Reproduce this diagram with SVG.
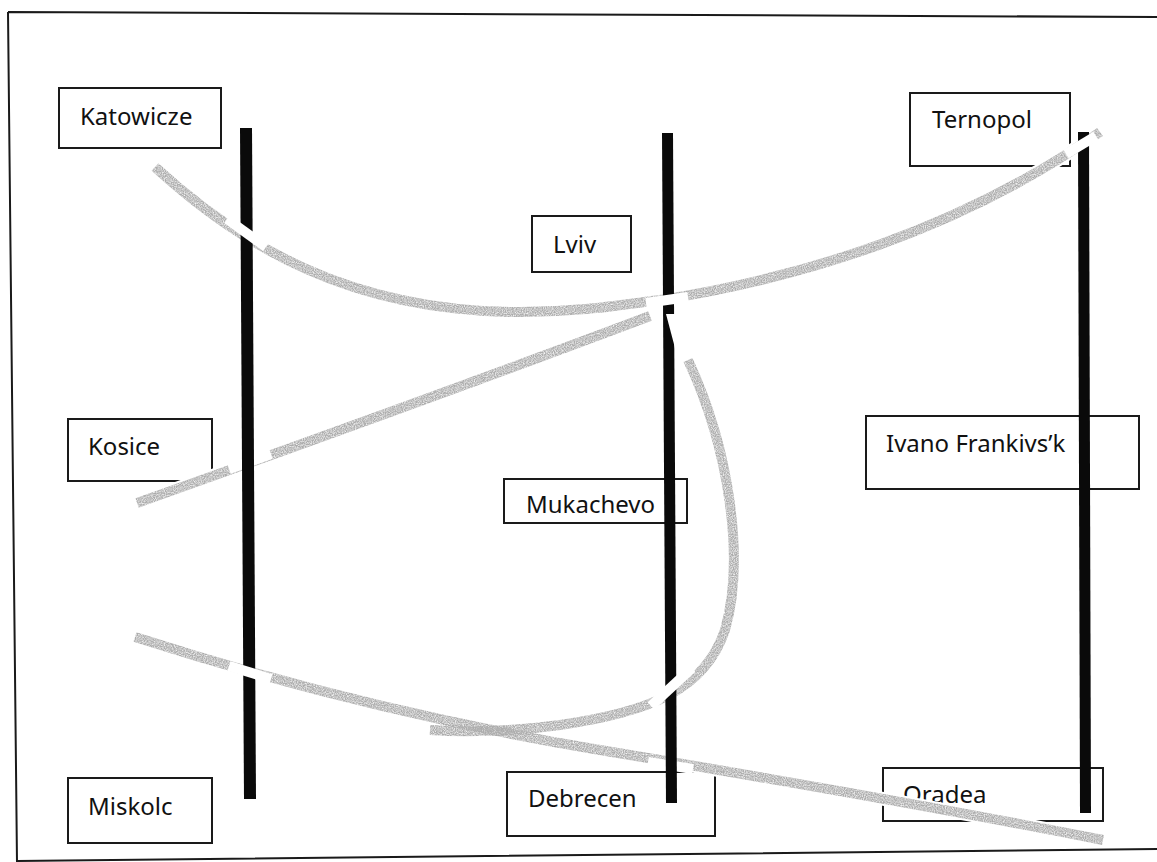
<svg xmlns="http://www.w3.org/2000/svg" width="1157" height="862" viewBox="0 0 1157 862">
  <defs>
    <filter id="grain" x="-5%" y="-5%" width="110%" height="110%">
      <feTurbulence type="fractalNoise" baseFrequency="0.9" numOctaves="2" seed="3" result="noise"/>
      <feColorMatrix in="noise" type="matrix" values="0 0 0 0 0  0 0 0 0 0  0 0 0 0 0  0 0 0 -1.6 1.5" result="mask"/>
      <feComposite in="SourceGraphic" in2="mask" operator="in"/>
    </filter>
  </defs>
  <style>
    .frame { fill: none; stroke: #1a1a1a; stroke-width: 2; }
    .box rect { fill: #fff; stroke: #1a1a1a; stroke-width: 2; }
    .box text { font-family: "Noto Sans", "Open Sans", sans-serif; font-size: 24px; fill: #111; }
    .bar { fill: #0a0a0a; }
    .casing { fill: none; stroke: #fff; stroke-width: 14; stroke-linecap: butt; }
    .route { fill: none; stroke: #acacac; stroke-width: 10; stroke-linecap: butt; filter: url(#grain); }
    .bridge { fill: none; stroke: #fff; stroke-width: 10; stroke-linecap: butt; }
  </style>

  <rect width="1157" height="862" fill="#fff"/>

  <!-- page frame -->
  <path class="frame" d="M8,12 L1160,17 M8,12 L17,862 M17,861 L1160,849"/>

  <!-- place boxes -->
  <g id="katowicze" class="box"><rect x="59" y="88" width="162" height="60"/><text x="80" y="125">Katowicze</text></g>
  <g id="ternopol" class="box"><rect x="910" y="93" width="160" height="73"/><text x="932" y="128">Ternopol</text></g>
  <g id="lviv" class="box"><rect x="532" y="216" width="99" height="56"/><text x="553" y="253">Lviv</text></g>
  <g id="kosice" class="box"><rect x="68" y="419" width="144" height="62"/><text x="88" y="455">Kosice</text></g>
  <g id="mukachevo" class="box"><rect x="504" y="479" width="183" height="44"/><text x="526" y="513">Mukachevo</text></g>
  <g id="ivano-frankivsk" class="box"><rect x="866" y="416" width="273" height="73"/><text x="886" y="452">Ivano Frankivs’k</text></g>
  <g id="miskolc" class="box"><rect x="68" y="778" width="144" height="65"/><text x="88" y="815">Miskolc</text></g>
  <g id="debrecen" class="box"><rect x="507" y="772" width="208" height="64"/><text x="528" y="807">Debrecen</text></g>
  <g id="oradea" class="box"><rect x="883" y="768" width="220" height="53"/><text x="903" y="803">Oradea</text></g>

  <!-- connectors -->
  <g id="connectors">
    <path class="casing" d="M155,167 C240,245 350,312 520,312 C580,312 620,305 660,300 C800,278 960,230 1100,132"/>
    <path class="casing" d="M137,503 C300,445 480,380 650,316"/>
    <path class="casing" d="M688,360 C730,450 745,560 725,630 C705,690 650,712 560,725 C510,732 460,732 430,730"/>
    <path class="casing" d="M135,637 C300,690 450,725 600,750 C750,775 950,810 1103,840"/>

    <path class="route" d="M155,167 C240,245 350,312 520,312 C580,312 620,305 660,300 C800,278 960,230 1100,132"/>
    <path class="route" d="M137,503 C300,445 480,380 650,316"/>
    <path class="route" d="M688,360 C730,450 745,560 725,630 C705,690 650,712 560,725 C510,732 460,732 430,730"/>
    <path class="route" d="M135,637 C300,690 450,725 600,750 C750,775 950,810 1103,840"/>

    <!-- routes pass under the bars here -->
    <path class="bridge" stroke-width="12" d="M229,469 L271,454"/>
    <path class="bridge" stroke-width="12" d="M648,762 L693,769"/>
  </g>

  <!-- border bars -->
  <g id="bars">
    <polygon class="bar" points="240,128 252,128 256,799 244,799"/>
    <polygon class="bar" points="662,133 673,133 677,803 666,803"/>
    <polygon class="bar" points="1078,132 1089,132 1091,813 1080,813"/>
  </g>

  <!-- routes cut through the bars here -->
  <g id="crossings">
    <path class="bridge" d="M227,219 L266,247"/>
    <path class="bridge" d="M646,303 L688,297"/>
    <path class="bridge" d="M692,668 L651,706"/>
    <path class="bridge" d="M229,666 L271,679"/>
    <path class="bridge" stroke-width="8" d="M1066,154 L1096,136"/>
    <polygon fill="#fff" points="666,314 675,314 675,348"/>
  </g>
</svg>
